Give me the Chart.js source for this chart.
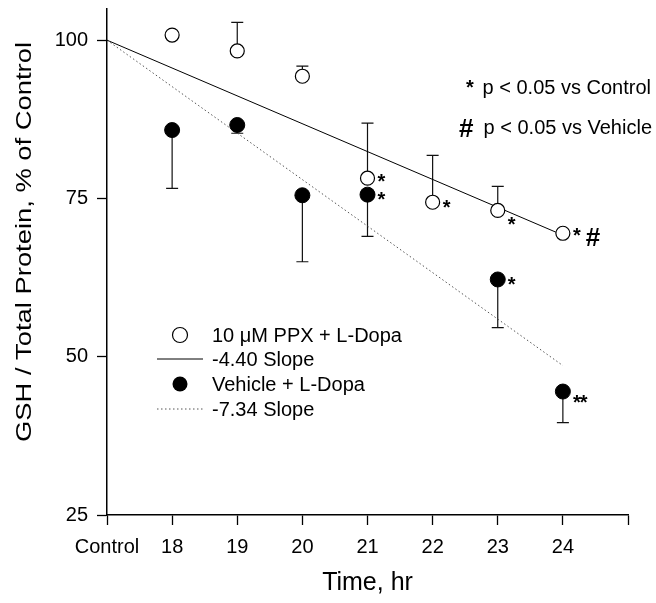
<!DOCTYPE html>
<html>
<head>
<meta charset="utf-8">
<script src="https://cdn.jsdelivr.net/npm/chart.js@4"></script>
<style>
  html, body { margin: 0; padding: 0; background: #fff; }
  #wrap { width: 656px; height: 603px; }
</style>
</head>
<body>
<div id="wrap"><canvas id="gshChart" width="656" height="603"></canvas></div>
<script>
// 17 stands for the "Control" slot on the time axis
const hours = [18, 19, 20, 21, 22, 23, 24];
const xTickValues = [17, 18, 19, 20, 21, 22, 23, 24, 25];
const xTickLabels = ['Control', '18', '19', '20', '21', '22', '23', '24', ''];
const yTickValues = [25, 50, 75, 100];

// 10 uM PPX + L-Dopa (open circles), error bars point up
const ppxMean = [100.8, 98.3, 94.3, 78.2, 74.4, 73.1, 69.5];
const ppxErrTop = [null, 102.8, 95.9, 86.9, 81.8, 76.9, null];
const ppxMarks = ['', '', '', '*', '*', '*', '*#'];

// Vehicle + L-Dopa (filled circles), error bars point down
const vehMean = [85.8, 86.6, 75.5, 75.6, null, 62.2, 44.5];
const vehErrBottom = [76.6, 85.3, 65.0, 69.0, null, 54.6, 39.6];
const vehMarks = ['', '', '', '*', '', '*', '**'];

// regression lines from Control (100 %) to 24 hr
const fitHours = [17, 24];
const ppxFit = [100, 69.2];
const vehFit = [100, 48.6];

const legendLabels = ['10 \u03BCM PPX + L-Dopa', '-4.40 Slope', 'Vehicle + L-Dopa', '-7.34 Slope'];
const noteLabels = ['p < 0.05 vs Control', 'p < 0.05 vs Vehicle'];
const yTitle = 'GSH / Total Protein, % of Control';
const xTitle = 'Time, hr';

const FONT = '"Liberation Sans", Arial, Helvetica, sans-serif';

function toPoints(xs, ys) {
  const out = [];
  for (let i = 0; i < xs.length; i++) {
    if (ys[i] == null) continue;
    out.push({ x: xs[i], y: ys[i] });
  }
  return out;
}

const errorBars = {
  id: 'errorBars',
  beforeDatasetsDraw(chart) {
    const ctx = chart.ctx;
    const xs = chart.scales.x;
    const ys = chart.scales.y;
    ctx.save();
    ctx.strokeStyle = '#111';
    ctx.lineWidth = 1.2;
    const draw = (x, from, to) => {
      const px = xs.getPixelForValue(x);
      const p0 = ys.getPixelForValue(from);
      const p1 = ys.getPixelForValue(to);
      ctx.beginPath();
      ctx.moveTo(px, p0);
      ctx.lineTo(px, p1);
      ctx.moveTo(px - 6, p1);
      ctx.lineTo(px + 6, p1);
      ctx.stroke();
    };
    for (let i = 0; i < hours.length; i++) {
      if (ppxErrTop[i] != null) draw(hours[i], ppxMean[i], ppxErrTop[i]);
      if (vehErrBottom[i] != null && vehMean[i] != null) draw(hours[i], vehMean[i], vehErrBottom[i]);
    }
    ctx.restore();
  }
};

// small nudges so the stars sit where the original put them
const ppxMarkDy = [0, 0, 0, 0, 2, 11, -1];
const vehMarkDy = [0, 0, 0, 1, 0, 2, 7];

const annotations = {
  id: 'annotations',
  afterDraw(chart) {
    const ctx = chart.ctx;
    const xs = chart.scales.x;
    const ys = chart.scales.y;
    ctx.save();
    ctx.fillStyle = '#000';
    ctx.textBaseline = 'alphabetic';
    ctx.textAlign = 'left';

    const drawMark = (x, y, mark, dy) => {
      let px = xs.getPixelForValue(x) + 10;
      const py = ys.getPixelForValue(y) + 10 + dy;
      for (const ch of mark) {
        if (ch === '#') {
          ctx.font = 'bold 26px ' + FONT;
          px += 6;
          ctx.fillText('#', px, py + 4);
          px += ctx.measureText('#').width;
        } else {
          ctx.font = 'bold 20px ' + FONT;
          ctx.fillText('*', px, py);
          px += ctx.measureText('*').width - 1;
        }
      }
    };
    for (let i = 0; i < hours.length; i++) {
      if (ppxMarks[i]) drawMark(hours[i], ppxMean[i], ppxMarks[i], ppxMarkDy[i]);
      if (vehMarks[i] && vehMean[i] != null) drawMark(hours[i], vehMean[i], vehMarks[i], vehMarkDy[i]);
    }

    // significance notes, top right
    ctx.textAlign = 'right';
    ctx.font = '20px ' + FONT;
    ctx.fillText(noteLabels[0], 651, 94);
    ctx.fillText(noteLabels[1], 652, 134);
    ctx.textAlign = 'left';
    ctx.font = 'bold 20px ' + FONT;
    ctx.fillText('*', 466, 94);
    ctx.font = 'bold 26px ' + FONT;
    ctx.fillText('#', 459, 137);

    // legend
    const rows = [335, 359, 384, 409];
    ctx.font = '20px ' + FONT;
    ctx.textBaseline = 'middle';
    for (let i = 0; i < legendLabels.length; i++) {
      ctx.fillText(legendLabels[i], 212, rows[i] + 1);
    }
    ctx.lineWidth = 1.2;
    ctx.strokeStyle = '#000';
    ctx.beginPath();
    ctx.arc(180, rows[0], 7.5, 0, Math.PI * 2);
    ctx.fillStyle = '#fff';
    ctx.fill();
    ctx.stroke();
    ctx.fillStyle = '#000';
    ctx.beginPath();
    ctx.arc(180, rows[2], 7.5, 0, Math.PI * 2);
    ctx.fill();
    ctx.lineWidth = 1;
    ctx.beginPath();
    ctx.moveTo(157, rows[1]);
    ctx.lineTo(203, rows[1]);
    ctx.stroke();
    ctx.strokeStyle = '#555';
    ctx.setLineDash([1.5, 2.5]);
    ctx.beginPath();
    ctx.moveTo(157, rows[3]);
    ctx.lineTo(203, rows[3]);
    ctx.stroke();
    ctx.setLineDash([]);

    // y axis title, stretched along its length like the original print
    ctx.fillStyle = '#000';
    ctx.translate(25, 242);
    ctx.rotate(-Math.PI / 2);
    ctx.font = '22px ' + FONT;
    const w = ctx.measureText(yTitle).width;
    ctx.scale(400 / w, 1);
    ctx.textAlign = 'center';
    ctx.textBaseline = 'middle';
    ctx.fillText(yTitle, 0, 0);
    ctx.restore();
  }
};

const ctx = document.querySelector('#gshChart').getContext('2d');
new Chart(ctx, {
  type: 'scatter',
  data: {
    datasets: [
      {
        label: legendLabels[0],
        data: toPoints(hours, ppxMean),
        pointStyle: 'circle',
        pointRadius: 7,
        pointBackgroundColor: '#fff',
        pointBorderColor: '#000',
        pointBorderWidth: 1.2,
        showLine: false,
      },
      {
        label: legendLabels[2],
        data: toPoints(hours, vehMean),
        pointStyle: 'circle',
        pointRadius: 7.5,
        pointBackgroundColor: '#000',
        pointBorderColor: '#000',
        pointBorderWidth: 1,
        showLine: false,
      },
      {
        label: legendLabels[1],
        data: toPoints(fitHours, ppxFit),
        showLine: true,
        borderColor: '#000',
        borderWidth: 1,
        pointRadius: 0,
      },
      {
        label: legendLabels[3],
        data: toPoints(fitHours, vehFit),
        showLine: true,
        borderColor: '#555',
        borderWidth: 1,
        borderDash: [1.5, 2.5],
        pointRadius: 0,
      },
    ],
  },
  options: {
    responsive: false,
    animation: false,
    layout: { padding: { top: 8, right: 28, left: 0, bottom: 0 } },
    plugins: {
      legend: { display: false },
      tooltip: { enabled: false },
    },
    scales: {
      x: {
        type: 'linear',
        min: 17,
        max: 25,
        afterBuildTicks: (scale) => {
          scale.ticks = xTickValues.map(v => ({ value: v }));
        },
        afterFit: (scale) => {
          scale.height = 88;
          scale.paddingLeft = 0;
          scale.paddingRight = 0;
        },
        ticks: {
          autoSkip: false,
          maxRotation: 0,
          padding: 10,
          color: '#000',
          font: { family: FONT, size: 20 },
          callback: (value) => xTickLabels[xTickValues.indexOf(value)],
        },
        grid: { drawOnChartArea: false, tickLength: 10, color: '#000', tickWidth: 1.3 },
        border: { color: '#000', width: 1.5 },
        title: {
          display: true,
          text: xTitle,
          color: '#000',
          font: { family: FONT, size: 25 },
          padding: { top: 0, bottom: 5 },
        },
      },
      y: {
        type: 'linear',
        min: 25,
        max: 105,
        afterBuildTicks: (scale) => {
          scale.ticks = yTickValues.map(v => ({ value: v }));
        },
        afterFit: (scale) => {
          scale.width = 107;
          scale.paddingTop = 0;
          scale.paddingBottom = 0;
        },
        ticks: {
          padding: 9,
          color: '#000',
          font: { family: FONT, size: 20 },
        },
        grid: { drawOnChartArea: false, tickLength: 10, color: '#000', tickWidth: 1.3 },
        border: { color: '#000', width: 1.5 },
      },
    },
  },
  plugins: [errorBars, annotations],
});
</script>
</body>
</html>
